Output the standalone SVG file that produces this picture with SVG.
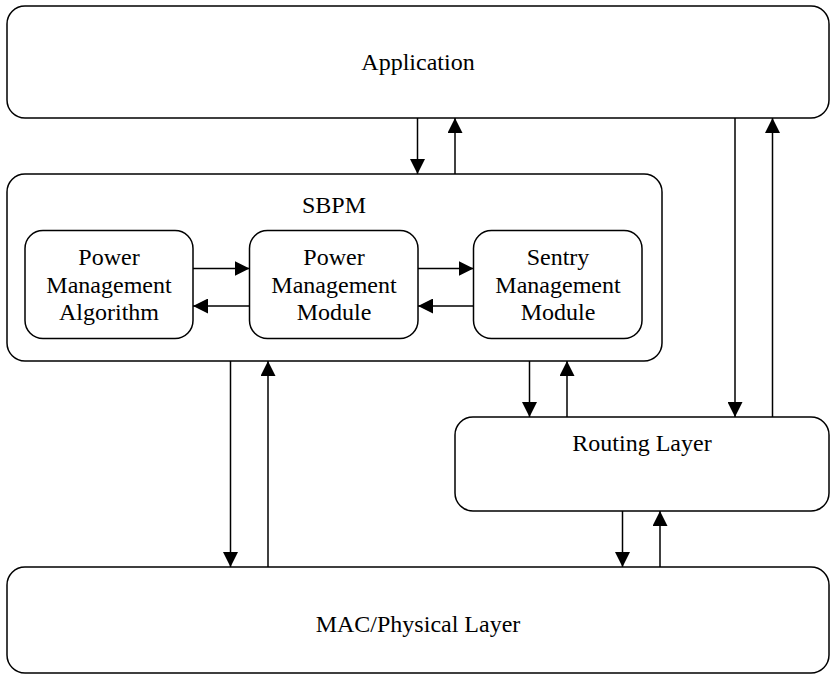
<svg xmlns="http://www.w3.org/2000/svg" width="831" height="675" viewBox="0 0 831 675">
<style>
.box{fill:#fff;stroke:#000;stroke-width:1.5}
.lbl{font-family:"Liberation Serif","Times New Roman",serif;font-size:24px;fill:#000;text-anchor:middle}
.c{stroke:#000;stroke-width:1.5;fill:none;marker-end:url(#ah)}
</style>
<defs>
<marker id="ah" markerUnits="userSpaceOnUse" markerWidth="15" markerHeight="15" refX="15" refY="7.5" orient="auto">
<path d="M0,0 L15,7.5 L0,15 z" fill="#000"/>
</marker>
</defs>
<rect width="831" height="675" fill="#fff"/>
<g id="application">
<rect class="box" x="7" y="6" width="822" height="112" rx="18"/>
<text class="lbl" x="418" y="70">Application</text>
</g>
<g id="sbpm">
<rect class="box" x="7" y="174" width="655" height="187" rx="18"/>
<text class="lbl" x="334" y="213">SBPM</text>
</g>
<g id="pma">
<rect class="box" x="25" y="230.5" width="168" height="108" rx="18"/>
<text class="lbl" x="109" y="265">Power</text>
<text class="lbl" x="109" y="292.5">Management</text>
<text class="lbl" x="109" y="319.5">Algorithm</text>
</g>
<g id="pmm">
<rect class="box" x="249.5" y="230.5" width="168.5" height="108" rx="18"/>
<text class="lbl" x="334" y="265">Power</text>
<text class="lbl" x="334" y="292.5">Management</text>
<text class="lbl" x="334" y="319.5">Module</text>
</g>
<g id="smm">
<rect class="box" x="473.5" y="230.5" width="168.5" height="108" rx="18"/>
<text class="lbl" x="558" y="265">Sentry</text>
<text class="lbl" x="558" y="292.5">Management</text>
<text class="lbl" x="558" y="319.5">Module</text>
</g>
<g id="routing">
<rect class="box" x="455" y="417" width="374" height="94" rx="18"/>
<text class="lbl" x="642" y="451">Routing Layer</text>
</g>
<g id="mac">
<rect class="box" x="7" y="567" width="822" height="106" rx="18"/>
<text class="lbl" x="418" y="632">MAC/Physical Layer</text>
</g>
<g id="connectors">
<line class="c" x1="417.5" y1="118" x2="417.5" y2="174"/>
<line class="c" x1="455" y1="174" x2="455" y2="118"/>
<line class="c" x1="193" y1="268.5" x2="249.5" y2="268.5"/>
<line class="c" x1="249.5" y1="306" x2="193" y2="306"/>
<line class="c" x1="418" y1="268.5" x2="473.5" y2="268.5"/>
<line class="c" x1="473.5" y1="306" x2="418" y2="306"/>
<line class="c" x1="529.5" y1="361" x2="529.5" y2="417"/>
<line class="c" x1="567" y1="417" x2="567" y2="361"/>
<line class="c" x1="735" y1="118" x2="735" y2="417"/>
<line class="c" x1="772.5" y1="417" x2="772.5" y2="118"/>
<line class="c" x1="230.5" y1="361" x2="230.5" y2="567"/>
<line class="c" x1="268" y1="567" x2="268" y2="361"/>
<line class="c" x1="622.5" y1="511" x2="622.5" y2="567"/>
<line class="c" x1="660" y1="567" x2="660" y2="511"/>
</g>
</svg>
